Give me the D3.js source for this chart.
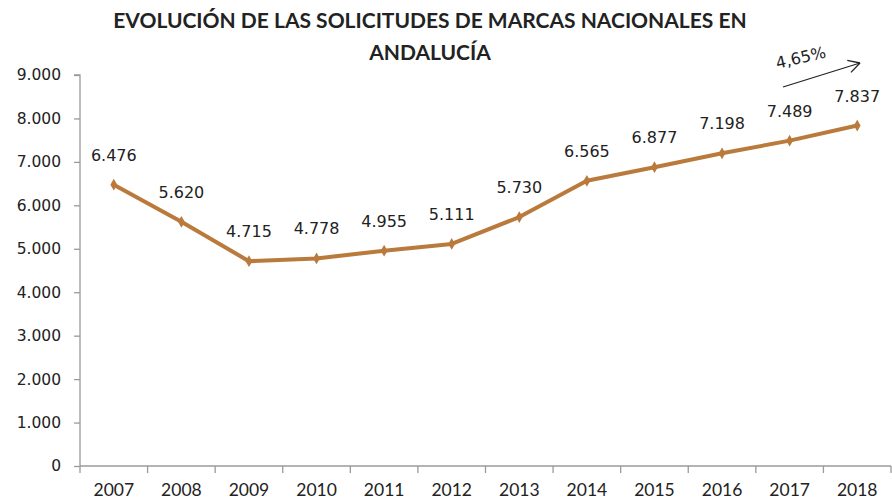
<!DOCTYPE html>
<html><head><meta charset="utf-8">
<script src="https://cdn.jsdelivr.net/npm/d3@7"></script>
<style>body{margin:0;background:#fff}svg{display:block}</style>
</head><body>
<svg id="c" width="892" height="502"></svg>
<script>
const years = ["2007","2008","2009","2010","2011","2012","2013","2014","2015","2016","2017","2018"];
const solicitudes = [6476,5620,4715,4778,4955,5111,5730,6565,6877,7198,7489,7837];
const yTicks = [0,1000,2000,3000,4000,5000,6000,7000,8000,9000];
const titleLines = ["EVOLUCIÓN DE LAS SOLICITUDES DE MARCAS NACIONALES EN","ANDALUCÍA"];
const growthLabel = "4,65%";

(function(){
const svg = d3.select("#c");
const font = "Lato, 'Open Sans', sans-serif";
const font2 = "'DejaVu Sans', Verdana, sans-serif";
const fmt = v => d3.format(",")(v).replace(/,/g, ".");
const pLeft = 80, pRight = 891, pTop = 75, pBottom = 466;

const x = d3.scaleBand().domain(years).range([pLeft, pRight]);
const y = d3.scaleLinear().domain([0, 9000]).range([pBottom, pTop]);

// title
svg.append("g").selectAll("text").data(titleLines).join("text")
  .attr("x", 430).attr("y", (d,i) => 28 + i*32)
  .attr("text-anchor", "middle")
  .attr("font-family", font).attr("font-weight", "bold").attr("font-size", 21)
  .attr("fill", "#222").text(d => d);

// y axis
const ya = svg.append("g").attr("transform", `translate(${pLeft},0)`)
  .call(d3.axisLeft(y).tickValues(yTicks).tickFormat(fmt).tickSize(6).tickPadding(13));
ya.selectAll("path,line").attr("stroke", "#9a9a9a").attr("stroke-width", 1.3);
ya.select(".domain").attr("d", `M-6,${pTop}H0V${pBottom}`);
ya.selectAll("text").attr("font-family", font2).attr("font-size", 15.5).attr("fill", "#222");

// x axis
const xa = svg.append("g").attr("transform", `translate(0,${pBottom})`)
  .call(d3.axisBottom(x).tickSize(0).tickPadding(18));
xa.selectAll("path").attr("stroke", "#9a9a9a").attr("stroke-width", 1.3);
xa.select(".domain").attr("d", `M${pLeft},0H${pRight}`);
xa.selectAll("text").attr("font-family", font).attr("font-size", 17.5).attr("fill", "#222");
xa.append("g").selectAll("line").data(years.concat(["end"])).join("line")
  .attr("x1", (d,i) => pLeft + i*x.step()).attr("x2", (d,i) => pLeft + i*x.step())
  .attr("y1", 0).attr("y2", 7).attr("stroke", "#9a9a9a").attr("stroke-width", 1.3);

// line
const cx = d => x(d) + x.bandwidth()/2;
const color = "#b97a3c";
svg.append("path").datum(solicitudes)
  .attr("fill", "none").attr("stroke", color).attr("stroke-width", 4)
  .attr("stroke-linejoin", "round")
  .attr("d", d3.line().x((d,i) => cx(years[i])).y(d => y(d)));
svg.append("g").selectAll("path").data(solicitudes).join("path")
  .attr("transform", (d,i) => `translate(${cx(years[i])},${y(d)})`)
  .attr("d", d3.symbol(d3.symbolDiamond, 40)).attr("fill", color);

// labels
svg.append("g").selectAll("text").data(solicitudes).join("text")
  .attr("x", (d,i) => cx(years[i])).attr("y", d => y(d) - 24)
  .attr("text-anchor", "middle")
  .attr("font-family", font2).attr("font-size", 16).attr("fill", "#222")
  .text(fmt);

// growth arrow
const ax1 = 783, ay1 = 87, ax2 = 860, ay2 = 63;
svg.append("line").attr("x1", ax1).attr("y1", ay1).attr("x2", ax2).attr("y2", ay2)
  .attr("stroke", "#222").attr("stroke-width", 1.3);
const ang = Math.atan2(ay2-ay1, ax2-ax1);
[0.5, -0.5].forEach(o => {
  svg.append("line").attr("x1", ax2).attr("y1", ay2)
    .attr("x2", ax2 - 13*Math.cos(ang+o)).attr("y2", ay2 - 13*Math.sin(ang+o))
    .attr("stroke", "#222").attr("stroke-width", 1.3);
});
svg.append("text").attr("transform", "translate(802,63) rotate(-13)")
  .attr("text-anchor", "middle").attr("font-family", font2).attr("font-size", 16)
  .attr("fill", "#222").text(growthLabel);
})();
</script>
</body></html>
